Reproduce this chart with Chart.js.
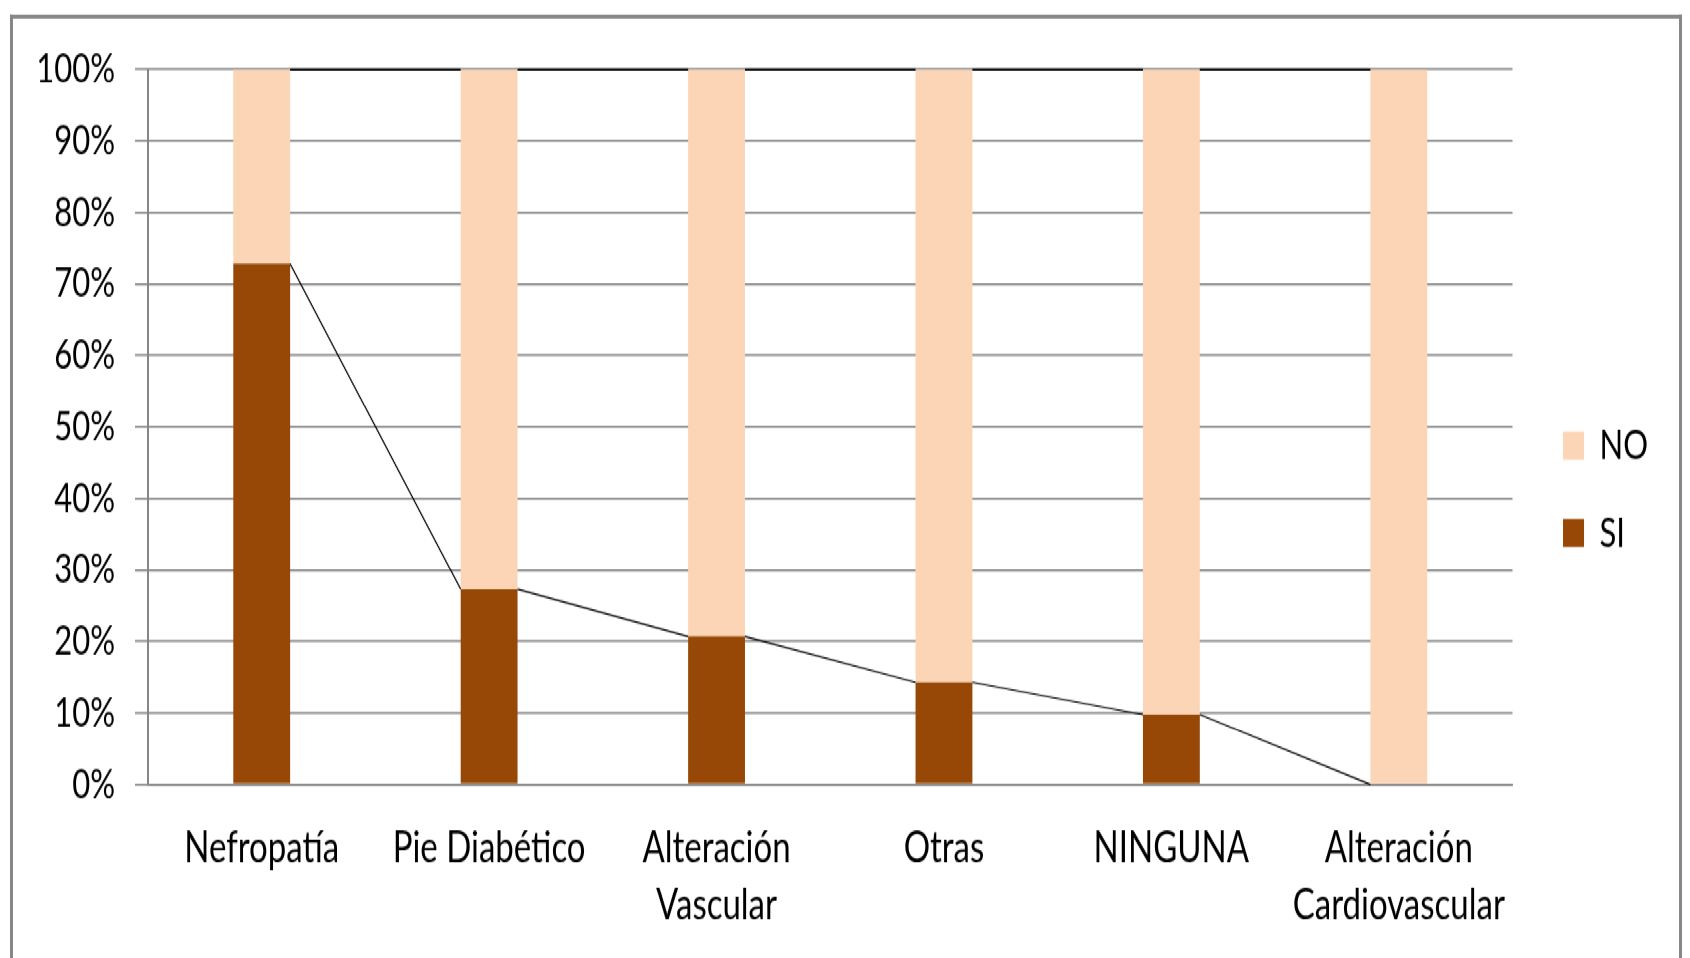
<!DOCTYPE html>
<html>
<head>
<meta charset="utf-8">
<script src="https://cdn.jsdelivr.net/npm/chart.js@4/dist/chart.umd.min.js"></script>
<style>
  html, body { margin: 0; padding: 0; background: #fff; overflow: hidden; }
  /* the whole figure is laid out at 720px and stretched to the 958px window height */
  #stage { position: absolute; left: 0; top: 0; width: 1690px; height: 720px;
           transform: scaleY(1.3306); transform-origin: 0 0; }
  #frame { position: absolute; left: 10px; top: 10.5px; width: 1672px; height: 760px;
           box-sizing: border-box; border: 3px solid #878787; border-bottom: none; }
  #wrap { position: absolute; left: 0; top: 0; width: 1690px; height: 720px; }
</style>
</head>
<body>
<div id="stage">
  <div id="frame"></div>
  <div id="wrap"><canvas id="chart"></canvas></div>
</div>
<script>
// Complicaciones de la diabetes: proporción de pacientes (SI / NO)
const categories = [
  ['Nefropatía'],
  ['Pie Diabético'],
  ['Alteración', 'Vascular'],
  ['Otras'],
  ['NINGUNA'],
  ['Alteración', 'Cardiovascular']
];
const siValues = [72.8, 27.3, 20.7, 14.3, 9.8, 0];
const noValues = [27.2, 72.7, 79.3, 85.7, 90.2, 100];
const yTickLabels = ['0%', '10%', '20%', '30%', '40%', '50%', '60%', '70%', '80%', '90%', '100%'];

const SI_COLOR = '#974806';
const NO_COLOR = '#FBD5B5';
const GRID = '#868686';
const FAMILY = 'Lato, "Liberation Sans", sans-serif';

// Connector ("series") lines joining the top of each stacked segment to the next bar
const seriesLines = {
  id: 'seriesLines',
  afterDatasetsDraw(chart) {
    const ctx = chart.ctx;
    ctx.save();
    chart.data.datasets.forEach((ds, di) => {
      const meta = chart.getDatasetMeta(di);
      if (meta.hidden) return;
      const bars = meta.data;
      ctx.strokeStyle = '#000';
      ctx.lineWidth = ds.label === 'NO' ? 1.6 : 1.1;
      ctx.beginPath();
      for (let i = 0; i < bars.length - 1; i++) {
        const a = bars[i].getProps(['x', 'y', 'width'], true);
        const b = bars[i + 1].getProps(['x', 'y', 'width'], true);
        ctx.moveTo(a.x + a.width / 2, a.y);
        ctx.lineTo(b.x - b.width / 2, b.y);
      }
      ctx.stroke();
    });
    ctx.restore();
  }
};

// invisible axis used only to reserve blank space in the layout
const spacer = (position, size) => ({
  type: 'linear',
  position,
  display: true,
  grid: { display: false, drawTicks: false },
  border: { display: false },
  ticks: { display: false },
  afterFit(scale) {
    if (scale.isHorizontal()) scale.height = size; else scale.width = size;
  }
});

new Chart(document.getElementById('chart'), {
  type: 'bar',
  data: {
    labels: categories,
    datasets: [
      { label: 'SI', data: siValues, backgroundColor: SI_COLOR, borderWidth: 0,
        barPercentage: 0.25, categoryPercentage: 1 },
      { label: 'NO', data: noValues, backgroundColor: NO_COLOR, borderWidth: 0,
        barPercentage: 0.25, categoryPercentage: 1 }
    ]
  },
  options: {
    responsive: true,
    maintainAspectRatio: false,
    animation: false,
    layout: { padding: { left: 0, right: 32, top: 15.5, bottom: 0 } },
    scales: {
      x: {
        stacked: true,
        grid: { display: false, drawTicks: false },
        border: { display: true, color: GRID, width: 1.5 },
        ticks: { color: '#000', font: { family: FAMILY, size: 33, lineHeight: 1.303 },
                 padding: 26, maxRotation: 0, autoSkip: false },
        afterFit(scale) { scale.height = 130.4; }
      },
      y: {
        stacked: true,
        min: 0,
        max: 100,
        ticks: { stepSize: 10, color: '#000', font: { family: FAMILY, size: 31 }, padding: 20,
                 callback: (v, i) => yTickLabels[i] },
        grid: { color: GRID, lineWidth: 1.5, tickLength: 13, drawTicks: true },
        border: { color: GRID, width: 2 },
        afterFit(scale) { scale.width = 148; }
      },
      xTop: { axis: 'x', ...spacer('top', 36.7) },
      yRight: { axis: 'y', ...spacer('right', 16) }
    },
    plugins: {
      tooltip: { enabled: false },
      legend: {
        position: 'right',
        align: 'center',
        reverse: true,
        labels: { boxWidth: 21, boxHeight: 21, padding: 34.5, color: '#000',
                  font: { family: FAMILY, size: 31 } }
      }
    }
  },
  plugins: [seriesLines]
});
</script>
</body>
</html>
